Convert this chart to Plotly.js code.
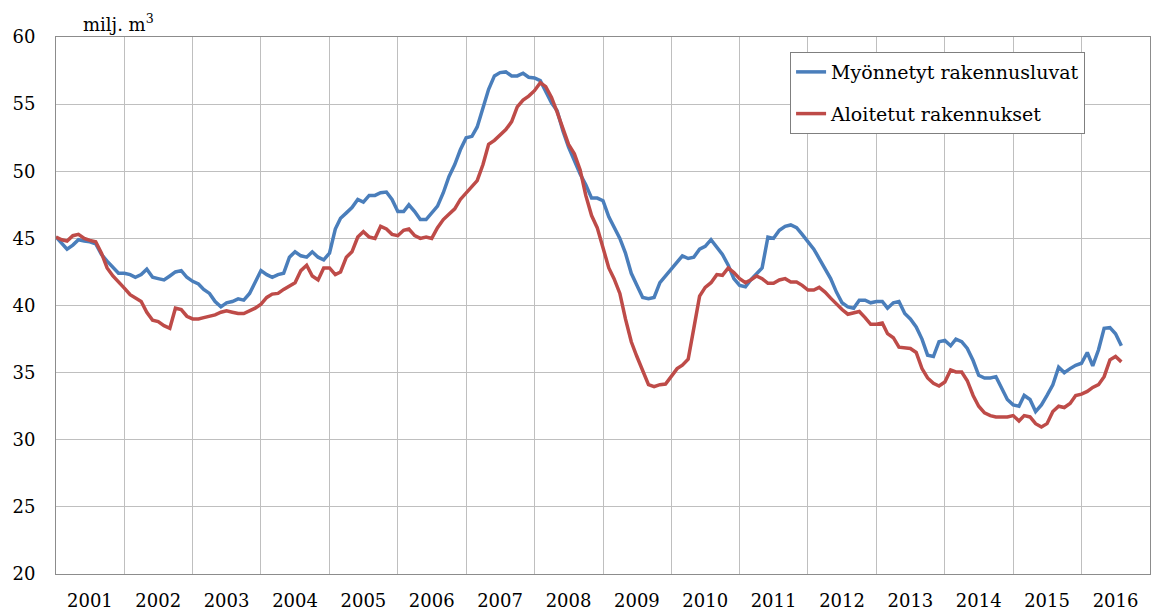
<!DOCTYPE html>
<html>
<head>
<meta charset="utf-8">
<script src="https://cdn.plot.ly/plotly-3.0.1.min.js"></script>
<style>html,body{margin:0;padding:0;background:#fff;}#chart{width:1153px;height:616px;}</style>
</head>
<body>
<div id="chart"></div>
<script>
// Monthly series, January 2001 onwards (milj. m3)
const startYear = 2001;
const seriesNames = ["Myönnetyt rakennusluvat", "Aloitetut rakennukset"];
const yearLabels = ["2001","2002","2003","2004","2005","2006","2007","2008","2009","2010","2011","2012","2013","2014","2015","2016"];
const yTicks = [20, 25, 30, 35, 40, 45, 50, 55, 60];

const myonnetyt = [
  45.1,44.6,44.2,44.5,44.9,44.8,44.75,44.6,43.8,43.3,42.8,42.4,
  42.4,42.3,42.1,42.3,42.7,42.1,42.0,41.9,42.2,42.5,42.6,42.1,
  41.8,41.6,41.2,40.9,40.3,39.9,40.2,40.3,40.5,40.4,40.9,41.8,
  42.6,42.3,42.1,42.3,42.4,43.6,44.0,43.7,43.6,44.0,43.6,43.4,
  43.9,45.7,46.5,46.9,47.3,47.9,47.7,48.2,48.2,48.4,48.45,47.9,
  47.0,47.0,47.5,47.0,46.4,46.4,46.9,47.4,48.4,49.6,50.5,51.6,
  52.5,52.6,53.3,54.8,56.1,57.1,57.35,57.4,57.1,57.1,57.3,57.0,
  56.95,56.75,56.0,55.1,54.5,53.0,51.8,50.8,49.8,49.0,48.0,48.0,
  47.8,46.6,45.8,45.0,43.9,42.4,41.5,40.6,40.5,40.6,41.7,42.2,
  42.7,43.2,43.7,43.5,43.6,44.2,44.4,44.9,44.3,43.8,43.0,42.0,
  41.5,41.4,41.9,42.4,42.8,45.1,45.0,45.6,45.9,46.0,45.8,45.3,
  44.7,44.2,43.5,42.8,42.0,41.0,40.2,39.9,39.8,40.4,40.4,40.2,
  40.3,40.3,39.8,40.2,40.3,39.4,39.0,38.4,37.5,36.3,36.2,37.3,
  37.4,37.0,37.5,37.3,36.8,35.9,34.8,34.6,34.6,34.7,33.8,33.0,
  32.6,32.5,33.3,33.0,32.1,32.6,33.3,34.1,35.4,35.0,35.3,35.55,
  35.7,36.5,35.5,36.7,38.3,38.35,37.9,37.0
];
const aloitetut = [
  45.1,44.9,44.8,45.2,45.3,45.0,44.85,44.75,43.9,42.8,42.2,41.8,
  41.3,40.8,40.55,40.3,39.5,38.9,38.8,38.5,38.3,39.8,39.7,39.2,
  39.0,39.0,39.1,39.2,39.3,39.5,39.6,39.5,39.4,39.4,39.6,39.8,
  40.1,40.6,40.85,40.9,41.2,41.45,41.7,42.6,43.0,42.2,41.9,42.8,
  42.8,42.3,42.5,43.6,44.0,45.1,45.5,45.1,45.0,45.9,45.7,45.3,
  45.2,45.6,45.7,45.2,45.0,45.1,45.0,45.8,46.4,46.8,47.2,47.9,
  48.4,48.9,49.3,50.5,52.0,52.3,52.7,53.1,53.7,54.8,55.3,55.6,
  56.0,56.6,56.3,55.5,54.4,53.2,52.0,51.3,50.1,48.2,46.7,45.8,
  44.2,42.8,42.0,40.9,39.0,37.3,36.2,35.1,34.1,33.95,34.1,34.15,
  34.7,35.3,35.55,36.0,38.3,40.7,41.35,41.7,42.3,42.25,42.8,42.45,
  42.0,41.7,41.9,42.2,42.0,41.65,41.65,41.9,42.0,41.75,41.75,41.5,
  41.15,41.15,41.35,41.0,40.55,40.1,39.7,39.35,39.45,39.55,39.1,38.6,
  38.6,38.7,37.9,37.6,36.9,36.85,36.8,36.5,35.3,34.6,34.2,34.0,
  34.3,35.2,35.05,35.05,34.4,33.3,32.5,32.0,31.8,31.7,31.7,31.7,
  31.8,31.4,31.8,31.7,31.2,30.95,31.2,32.1,32.5,32.4,32.7,33.3,
  33.4,33.6,33.9,34.1,34.7,35.95,36.2,35.8
];

function monthDate(i) {
  const y = startYear + Math.floor(i / 12);
  const m = (i % 12) + 1;
  return y + "-" + (m < 10 ? "0" + m : m) + "-01";
}
const xMyon = myonnetyt.map((_, i) => monthDate(i));
const xAloi = aloitetut.map((_, i) => monthDate(i));

const FONT = "DejaVu Serif";

const traces = [
  {x: xMyon, y: myonnetyt, type: "scatter", mode: "lines", name: seriesNames[0],
   legendgroup: "a", line: {color: "#4a7ebb", width: 3.5}},
  {x: xAloi, y: aloitetut, type: "scatter", mode: "lines", name: seriesNames[1],
   legendgroup: "b", line: {color: "#be4b48", width: 3.5}}
];

const tickVals = yearLabels.map(y => y + "-07-01");

const layout = {
  width: 1153, height: 616,
  margin: {l: 56, r: 3, t: 37, b: 42},
  paper_bgcolor: "#fff", plot_bgcolor: "#fff",
  font: {family: FONT, size: 18, color: "#000"},
  showlegend: true,
  legend: {
    x: 0.671, y: 0.972, xanchor: "left", yanchor: "top",
    bgcolor: "#fff", bordercolor: "#7f7f7f", borderwidth: 1,
    font: {family: FONT, size: 19, color: "#000"},
    traceorder: "grouped", tracegroupgap: 14
  },
  xaxis: {
    type: "date",
    range: ["2001-01-01", "2017-01-01"],
    tickmode: "array", tickvals: tickVals, ticktext: yearLabels,
    showgrid: false, ticks: "",
    minor: {tickmode: "linear", tick0: "2001-01-01", dtick: "M12", showgrid: true, gridcolor: "#bfbfbf", gridwidth: 1, ticks: ""},
    showline: true, linecolor: "#8c8c8c", linewidth: 1, mirror: true,
    tickfont: {family: FONT, size: 18, color: "#000"},
    ticklabelstandoff: 10,
    zeroline: false, fixedrange: true
  },
  yaxis: {
    range: [20, 60],
    tickmode: "array", tickvals: yTicks,
    showgrid: true, gridcolor: "#bfbfbf", gridwidth: 1,
    showline: true, linecolor: "#8c8c8c", linewidth: 1, mirror: true,
    ticks: "",
    tickfont: {family: FONT, size: 18, color: "#000"},
    ticklabelstandoff: 16,
    zeroline: false, fixedrange: true
  },
  annotations: [
    {xref: "paper", yref: "paper", x: (118 - 56) / 1094, y: 1.0, yanchor: "bottom", xanchor: "center",
     text: "milj. m<sup>3</sup>", showarrow: false, yshift: 0,
     font: {family: FONT, size: 18, color: "#000"}}
  ]
};

Plotly.newPlot("chart", traces, layout, {displayModeBar: false, staticPlot: true});
</script>
</body>
</html>
